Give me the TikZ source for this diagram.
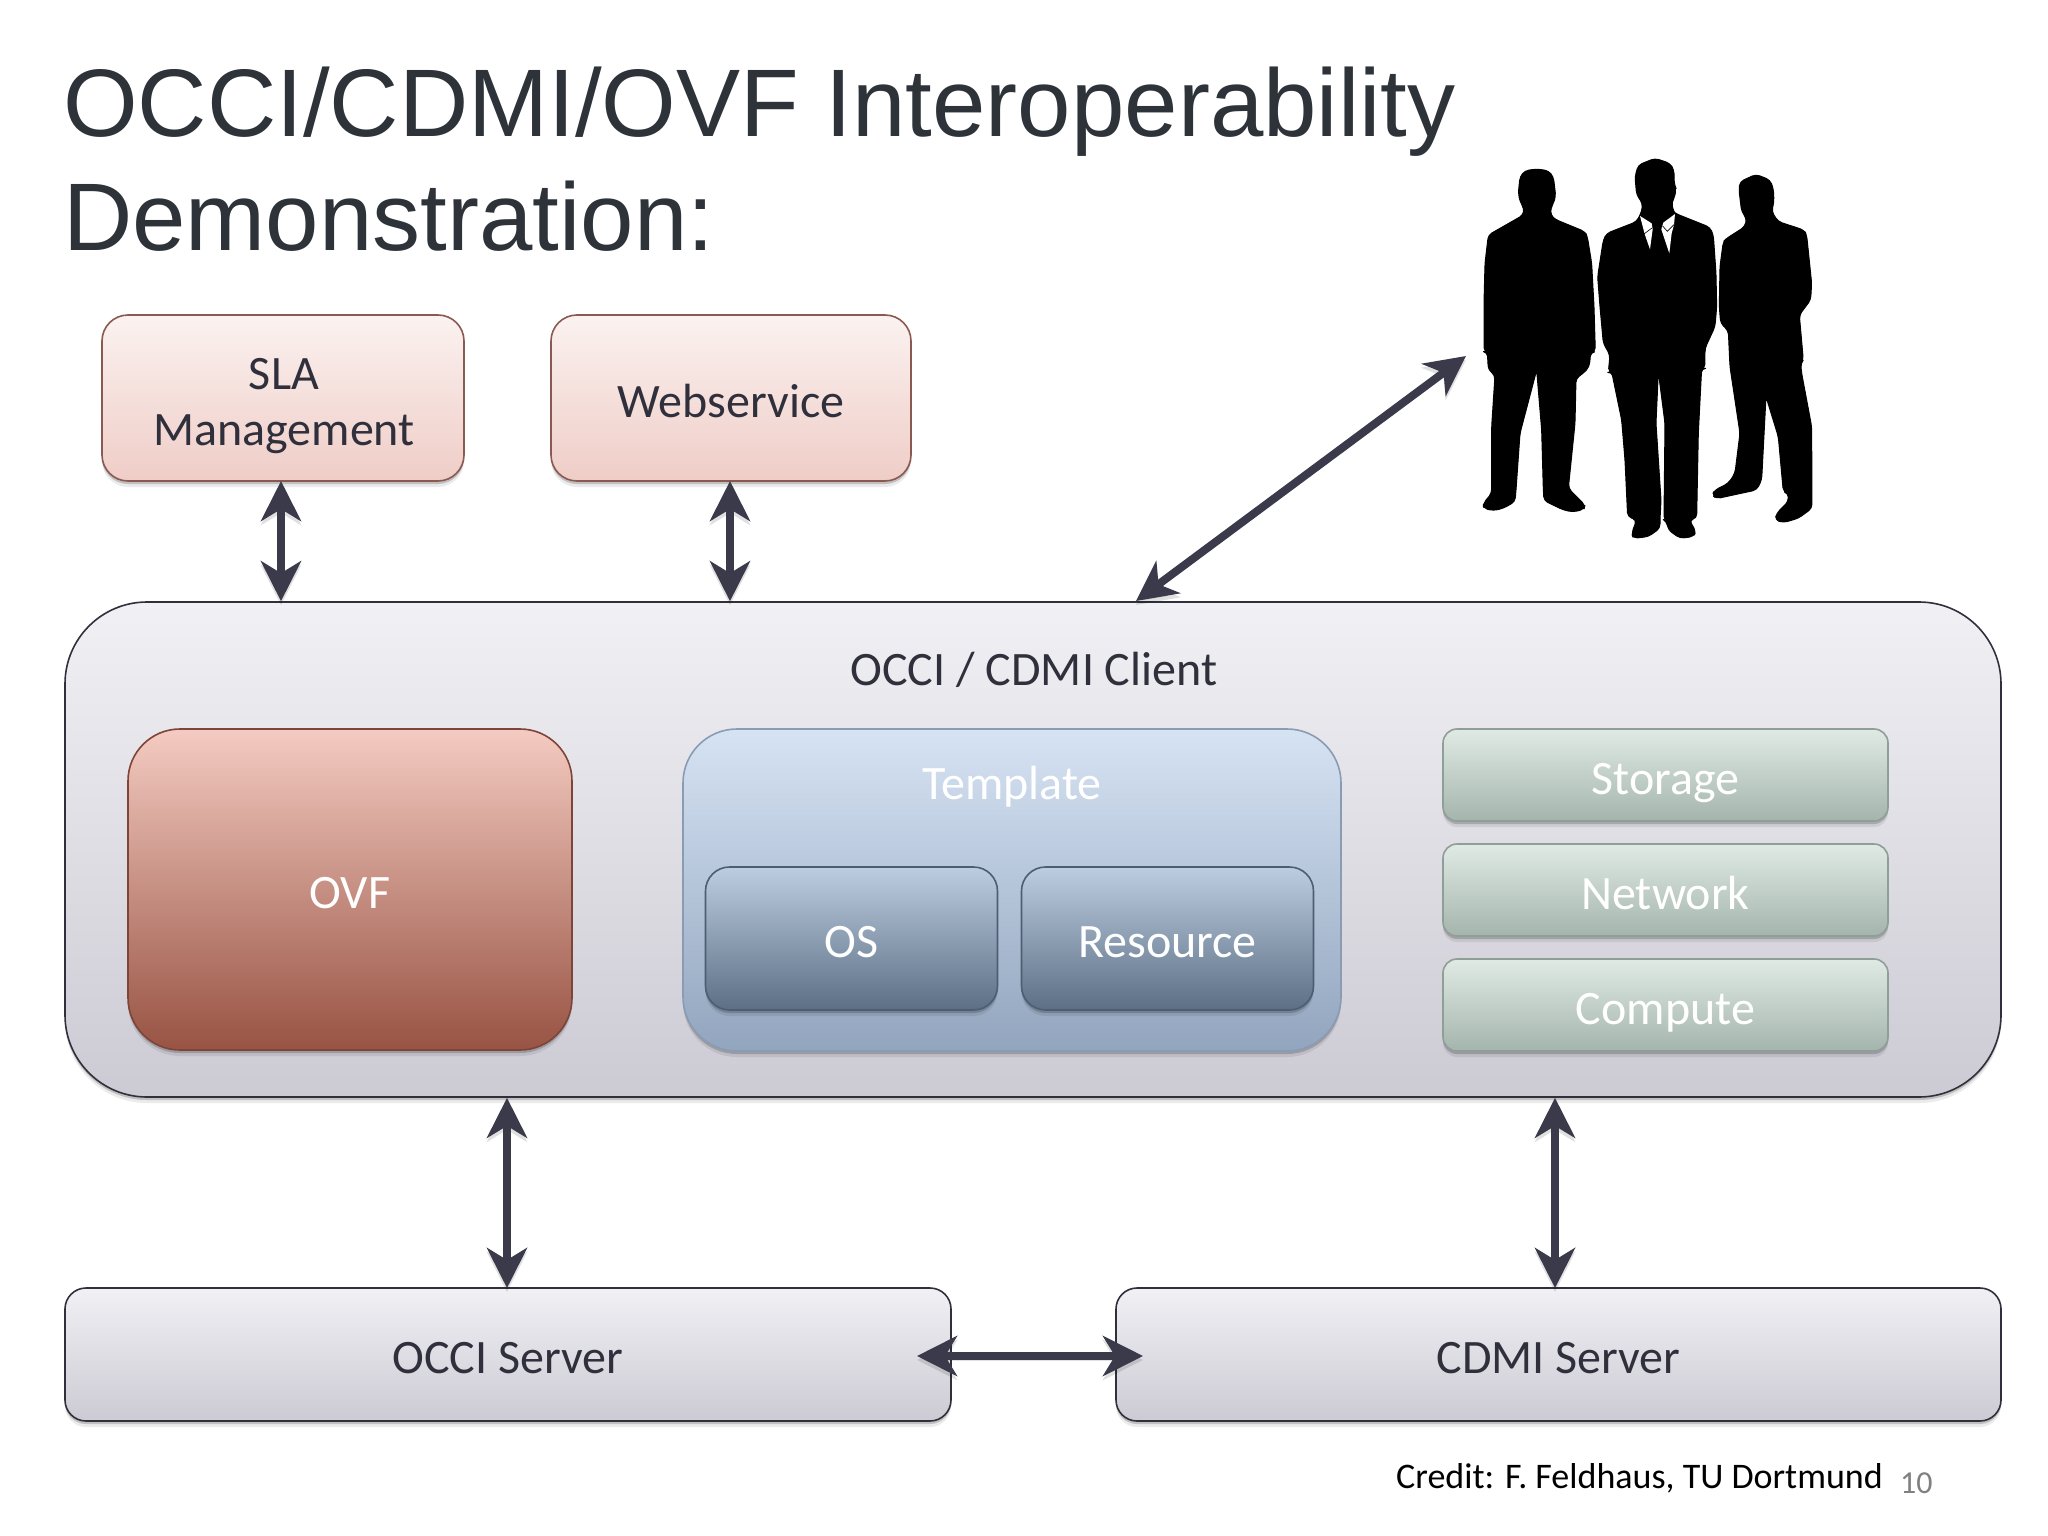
\documentclass[tikz,border=0pt]{standalone}
\usepackage{fontspec}
\setmainfont{Carlito}
\newfontfamily\titlefont{Liberation Sans}
\usetikzlibrary{arrows.meta,shadows,calc}
\definecolor{inkdark}{HTML}{30303C}
\definecolor{arrowink}{HTML}{3A3A4A}
\definecolor{titleink}{HTML}{2D3338}
\tikzset{
  softshadow/.style={drop shadow={shadow xshift=0pt,shadow yshift=-3pt,opacity=.18,fill=black},
                     drop shadow={shadow xshift=0pt,shadow yshift=-6pt,opacity=.08,fill=black}},
  box/.style={rectangle,softshadow,shading angle=0,inner sep=0pt,line width=1.6pt,align=center,text height=38pt,text depth=0pt,font=\fontsize{48}{56}\selectfont},
  greybox/.style={box,draw=inkdark,top color=f0f3,bottom color=cdd6,text=inkdark},
  pinkbox/.style={box,draw=pinkedge,top color=pinktop,bottom color=pinkbot,text=inkdark,minimum height=166pt,rounded corners=26pt},
  ovfbox/.style={box,draw=ovfedge,top color=ovftop,bottom color=ovfbot,rounded corners=52pt,text=white},
  tplbox/.style={box,draw=tpledge,top color=tpltop,bottom color=tplbot,rounded corners=54pt},
  subbox/.style={box,draw=subedge,top color=subtop,bottom color=subbot,rounded corners=24pt,minimum width=292pt,minimum height=143pt,text=white},
  greenbox/.style={box,draw=grnedge,top color=grntop,bottom color=grnbot,rounded corners=14pt,minimum width=445pt,minimum height=92pt,text=white},
  serverbox/.style={greybox,rounded corners=21pt,minimum height=133pt},
  tag/.style={inner sep=0pt,align=center,font=\fontsize{48}{56}\selectfont},
  linetag/.style={tag,text height=38pt,text depth=0pt},
  link/.style={line width=8pt,draw=arrowink,
    {Stealth[length=40pt,width=40pt,inset=12pt]}-{Stealth[length=40pt,width=40pt,inset=12pt]},
    preaction={draw=black,opacity=.12,transform canvas={yshift=-4pt}}},
  person/.style={fill=black,draw=black,line width=1pt,line join=round,rounded corners=4pt},
}
\definecolor{f0f3}{HTML}{F1F0F4}
\definecolor{cdd6}{HTML}{CCCBD4}
\definecolor{pinktop}{HTML}{FBF2F0}
\definecolor{pinkbot}{HTML}{EFCDC7}
\definecolor{pinkedge}{HTML}{8A5A52}
\definecolor{ovftop}{HTML}{F4CBC2}
\definecolor{ovfbot}{HTML}{985343}
\definecolor{ovfedge}{HTML}{7E4438}
\definecolor{tpltop}{HTML}{D6E3F3}
\definecolor{tplbot}{HTML}{92A5BE}
\definecolor{tpledge}{HTML}{8A9CB3}
\definecolor{subtop}{HTML}{BDCDE1}
\definecolor{subbot}{HTML}{5C6F84}
\definecolor{subedge}{HTML}{4E5E72}
\definecolor{grntop}{HTML}{E0EAE5}
\definecolor{grnbot}{HTML}{A4B5AD}
\definecolor{grnedge}{HTML}{8F9E97}
\begin{document}
\begin{tikzpicture}[x=1pt,y=-1pt]
\useasboundingbox (0,0) rectangle (2048,1536);
\fill[white] (0,0) rectangle (2048,1536);

% title
\node[anchor=base west,inner sep=0pt,text=titleink,font=\titlefont\fontsize{96}{115}\selectfont] (title1) at (63,137) {OCCI/CDMI/OVF Interoperability};
\node[anchor=base west,inner sep=0pt,text=titleink,font=\titlefont\fontsize{96}{115}\selectfont] (title2) at (63,250) {Demonstration:};

% top boxes
\node[pinkbox,minimum width=362pt] (sla) at (283,398) {};
\node[tag,text=inkdark] (slatag) at (284,406) {SLA\\Management};
\node[pinkbox,minimum width=360pt] (web) at (731,398) {Webservice};

% client
\node[greybox,rounded corners=82pt,minimum width=1936pt,minimum height=495pt] (client) at (1033,849.5) {};
\node[linetag,text=inkdark] (clienttag) at (1034,666) {OCCI / CDMI Client};

\node[ovfbox,minimum width=444pt,minimum height=321pt] (ovf) at (350,889.5) {OVF};
\node[tplbox,minimum width=658pt,minimum height=322pt] (tpl) at (1012,890) {};
\node[linetag,text=white] (tpltag) at (1012,780) {Template};
\node[subbox] (os) at (851.5,938.5) {OS};
\node[subbox] (res) at (1167.5,938.5) {Resource};
\node[greenbox] (storage) at (1665.5,775) {Storage};
\node[greenbox] (network) at (1665.5,890) {Network};
\node[greenbox] (compute) at (1665.5,1005) {Compute};

% servers
\node[serverbox,minimum width=886pt] (occi) at (508,1354.5) {OCCI Server};
\node[serverbox,minimum width=885pt] (cdmi) at (1558.5,1354.5) {CDMI Server};

% connector ends
\coordinate (slalink) at (281,481);
\coordinate (weblink) at (730,481);
\coordinate (occiup) at (507,1288);
\coordinate (cdmiup) at (1555,1288);
\coordinate (peopleend) at (1466,356);
\coordinate (clientdiag) at (1136,601);
\coordinate (occilink) at (917,1356);
\coordinate (cdmilink) at (1143,1356);

\draw[link] (slalink) -- (slalink |- client.north);
\draw[link] (weblink) -- (weblink |- client.north);
\draw[link] (clientdiag) -- (peopleend);
\draw[link] (occiup |- client.south) -- (occiup);
\draw[link] (cdmiup |- client.south) -- (cdmiup);
\draw[link] (occilink) -- (cdmilink);

% credit
\node[anchor=base west,inner sep=0pt,text=black,font=\fontsize{36}{42}\selectfont] (credit) at (1396,1488) {Credit: F. Feldhaus, TU Dortmund};
\node[anchor=base west,inner sep=0pt,text=black!50,font=\fontsize{32}{38}\selectfont] (page) at (1900,1493) {10};

% people
\begin{scope}[shift={(1440,140)},x=0.3333pt,y=-0.3333pt]
\fill[person] (290,87)--(325,92)--(340,110)--(345,150)--(347,170)--(340,190)--(332,205)--(332,225)--(345,238)--(435,275)--(442,290)--(455,370)--(462,500)--(466,635)--(452,637)--(448,680)--(430,700)--(408,715)--(405,850)--(385,1045)--(435,1095)--(432,1108)--(400,1116)--(370,1110)--(312,1082)--(310,1050)--(305,870)--(290,690)--(240,880)--(228,1050)--(225,1085)--(190,1105)--(160,1112)--(130,1105)--(130,1090)--(155,1060)--(155,1040)--(155,860)--(165,705)--(145,690)--(142,637)--(132,635)--(132,490)--(135,370)--(145,285)--(250,225)--(252,205)--(240,185)--(235,160)--(240,110)--(255,92)--cycle;
\fill[person] (645,55)--(690,70)--(702,90)--(703,135)--(708,145)--(705,170)--(695,185)--(700,215)--(705,220)--(810,262)--(820,285)--(828,400)--(830,500)--(825,560)--(795,625)--(795,685)--(785,685)--(775,880)--(770,1135)--(748,1140)--(768,1175)--(760,1190)--(720,1195)--(685,1170)--(680,1145)--(672,1140)--(675,850)--(655,695)--(648,850)--(663,1080)--(660,1140)--(660,1165)--(625,1190)--(580,1195)--(575,1180)--(590,1140)--(563,1130)--(555,960)--(545,840)--(515,695)--(505,697)--(510,645)--(490,610)--(480,500)--(473,410)--(490,300)--(500,280)--(590,245)--(605,215)--(608,190)--(590,165)--(585,110)--(595,75)--cycle;
\fill[white] (600,228)--(635,250)--(638,268)--(630,328)--(614,282)--cycle;
\fill[white] (705,222)--(670,248)--(664,268)--(688,340)--(695,280)--(702,255)--cycle;
\draw[black,line width=.6pt] (612,282)--(636,264) (668,258)--(682,274)--(702,254);
\fill[person] (948,103)--(990,120)--(1000,145)--(1002,185)--(995,215)--(1015,245)--(1092,270)--(1100,285)--(1115,430)--(1112,480)--(1078,525)--(1090,660)--(1082,670)--(1085,700)--(1115,860)--(1116,1105)--(1075,1135)--(1030,1148)--(1005,1140)--(1010,1120)--(1045,1085)--(1045,1060)--(1030,1055)--(1015,890)--(978,770)--(965,1020)--(950,1050)--(880,1065)--(830,1076)--(816,1065)--(825,1050)--(865,1030)--(885,1000)--(900,880)--(870,680)--(865,572)--(842,550)--(838,500)--(840,380)--(850,305)--(860,295)--(915,260)--(920,235)--(905,215)--(897,150)--(900,125)--cycle;
\end{scope}
\end{tikzpicture}
\end{document}
